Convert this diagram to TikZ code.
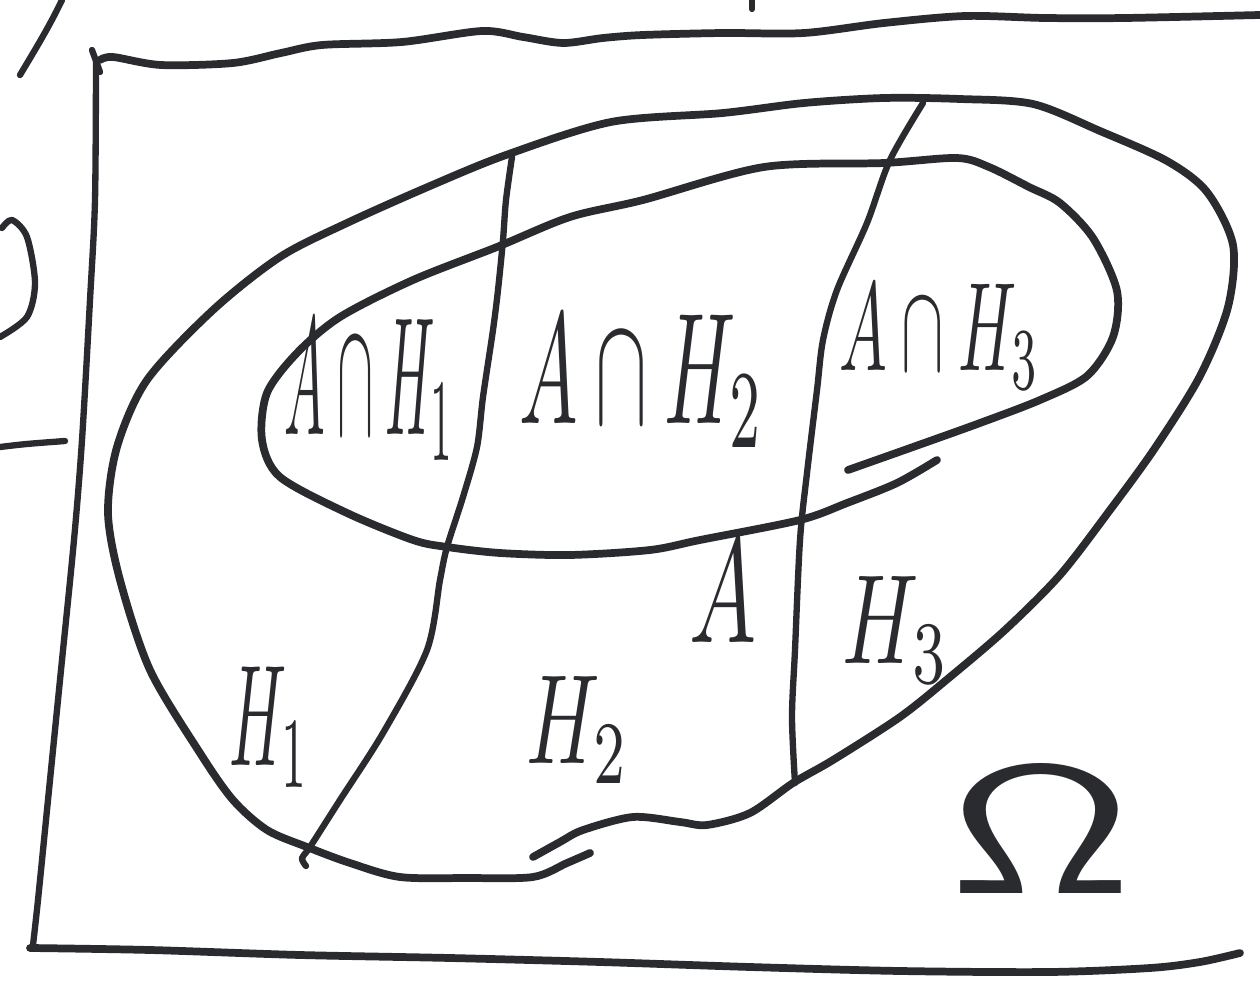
\documentclass[tikz,border=0pt]{standalone}
\usepackage{graphicx}
\usepackage{amssymb}
\definecolor{inkgray}{HTML}{2A2B2F}
\tikzset{
  pen/.style={draw=inkgray, line width=2.2pt, line cap=round, line join=round},
  thinpen/.style={pen, line width=1.8pt},
  hand/.style={inner sep=0pt, text=inkgray}
}
\newcommand{\handtext}[3]{\resizebox*{#1}{#2}{$#3$}}

\begin{document}
\begin{tikzpicture}[x=0.01cm, y=-0.01cm]
  \fill[white] (0,0) rectangle (1260,985);
  \useasboundingbox (0,0) rectangle (1260,985);

  % Scraps of the page at the edges
  \draw[thinpen] (20,75) .. controls (38,45) and (50,25) .. (62,0);
  \draw[thinpen] (752,0) -- (752,9);
  \draw[thinpen] plot[smooth] coordinates {(2,228) (12,220) (27,237) (35,283) (27,317) (0,337)};
  \draw[thinpen] (0,447) .. controls (25,444) .. (65,441);

  % Frame Omega
  \draw[thinpen] (92,50) -- (100,72);
  \draw[pen] plot[smooth] coordinates {(100,60) (113,57) (161,65) (233,63) (281,53)
    (322,45) (402,42) (482,31) (523,37) (563,43) (603,38) (643,35) (723,33)
    (804,33) (884,23) (965,16) (1045,18) (1125,18) (1260,15)};
  \draw[thinpen] plot[smooth] coordinates {(96,62) (95,200) (90,300) (82,440)
    (74,540) (60,680) (48,800) (38,900) (33,945)};
  \draw[pen] plot[smooth] coordinates {(30,948) (150,950) (300,955) (450,958)
    (600,962) (750,967) (900,971) (1050,972) (1150,968) (1200,962) (1240,953)};

  % Outer blob (H1, H2, H3)
  \draw[pen] plot[smooth] coordinates {(533,857) (560,842) (583,830) (633,817)
    (680,822) (707,825) (750,813) (793,783) (833,760) (900,717) (950,677)
    (1005,630) (1060,575) (1110,510) (1155,448) (1200,376) (1228,307)
    (1233,245) (1207,192) (1167,161) (1100,131) (1033,104) (960,99) (884,98)
    (804,103) (723,113) (611,122) (506,155) (430,186) (347,223) (280,257)
    (213,310) (147,380) (117,447) (108,513) (120,580) (150,670) (200,753)
    (233,800) (267,830) (307,847) (350,863) (400,877) (467,878) (533,877)
    (567,863) (590,853)};

  % Event A
  \draw[pen] plot[smooth] coordinates {(937,460) (897,483) (847,503) (800,520)
    (700,540) (650,550) (570,555) (500,553) (447,547) (413,540) (347,513)
    (280,477) (262,440) (267,393) (297,353) (340,317) (413,280) (497,247)
    (570,217) (643,200) (764,167) (884,163) (957,158) (989,167) (1029,187)
    (1060,203) (1093,238) (1117,291) (1113,337) (1087,376) (1040,400)
    (980,423) (913,447) (848,470)};

  % Dividers
  \draw[thinpen] plot[smooth] coordinates {(512,157) (506,200) (503,240) (498,290)
    (493,330) (483,397) (477,447) (463,497) (447,547) (440,580) (427,650)
    (383,733) (340,800) (310,847) (302,858) (306,866)};
  \draw[thinpen] plot[smooth] coordinates {(923,103) (890,160) (867,223) (837,290)
    (823,340) (817,390) (807,473) (800,540) (795,650) (792,717) (795,783)};

  % Labels
  \node[hand] (ah1) at (370,390) {\handtext{1.7cm}{1.4cm}{A\cap H_1}};
  \node[hand] (ah2) at (642,381) {\handtext{2.45cm}{1.32cm}{A\cap H_2}};
  \node[hand] (ah3) at (940,337) {\handtext{2.0cm}{1.05cm}{A\cap H_3}};
  \node[hand] (a) at (723,591) {\handtext{0.67cm}{1.03cm}{A}};
  \node[hand] (h1) at (270,727) {\handtext{0.8cm}{1.2cm}{H_1}};
  \node[hand] (h2) at (578,730) {\handtext{1.03cm}{1.06cm}{H_2}};
  \node[hand] (h3) at (896,630) {\handtext{1.07cm}{1.06cm}{H_3}};
  \node[hand] (omega) at (1041,830) {\handtext{1.83cm}{1.26cm}{\mathsf{\Omega}}};
\end{tikzpicture}
\end{document}
